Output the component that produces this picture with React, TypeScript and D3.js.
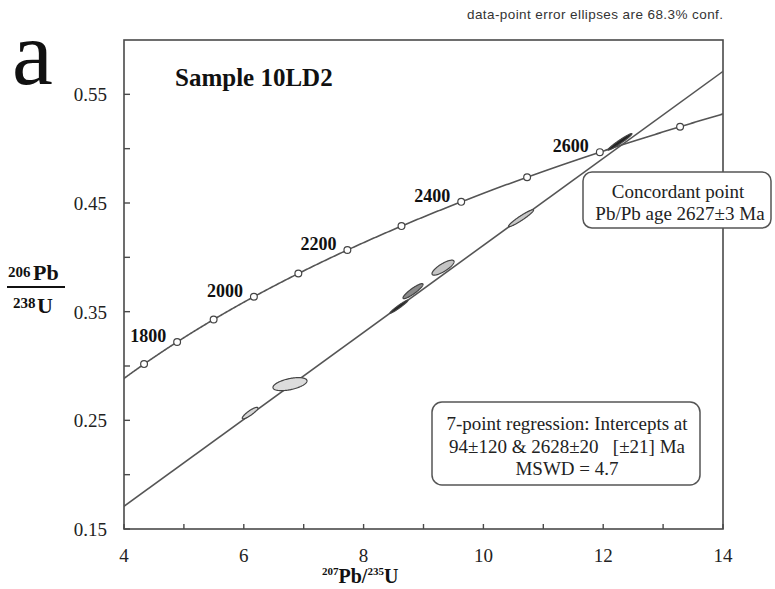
import React from 'react';
import * as d3 from 'd3';

// Decay constants (per year)
const LAMBDA_238 = 1.55125e-10;
const LAMBDA_235 = 9.8485e-10;

// Axis ticks
const xTicks = [4, 5, 6, 7, 8, 9, 10, 11, 12, 13, 14];
const xTickLabels = [4, 6, 8, 10, 12, 14];
const yTicks = [0.15, 0.2, 0.25, 0.3, 0.35, 0.4, 0.45, 0.5, 0.55];
const yTickLabels = [0.15, 0.25, 0.35, 0.45, 0.55];

// Concordia age markers (Ma)
const markerAges = [1700, 1800, 1900, 2000, 2100, 2200, 2300, 2400, 2500, 2600, 2700];
const labelledAges = [1800, 2000, 2200, 2400, 2600];

// Discordia intercepts (Ma)
const lowerInterceptMa = 94;
const upperInterceptMa = 2628;

// Zircon analyses: ratios, 1-sigma errors and error correlation
const pb207U235 = [6.104, 6.771, 8.591, 8.825, 9.326, 10.628, 12.28];
const sigma207 = [0.13, 0.284, 0.15, 0.167, 0.184, 0.209, 0.2];
const pb206U238 = [0.2567, 0.2833, 0.3546, 0.3689, 0.3905, 0.436, 0.5063];
const sigma206 = [0.0053, 0.006, 0.006, 0.0069, 0.0069, 0.0078, 0.0076];
const rho = [0.88, 0.5, 0.97, 0.9, 0.8, 0.95, 0.97];
const ellipseFills = ['#d6d6d6', '#dcdcdc', '#222222', '#8a8a8a', '#c4c4c4', '#c8c8c8', '#222222'];

const W = 775;
const H = 589;
const left = 124;
const right = 723;
const top = 40;
const bottom = 529;

const serif = "'Liberation Serif', 'Times New Roman', serif";
const sans = "'Liberation Sans', Arial, sans-serif";
const ink = '#4a4a4a';

const ratio207 = (ma: number) => Math.exp(LAMBDA_235 * ma * 1e6) - 1;
const ratio206 = (ma: number) => Math.exp(LAMBDA_238 * ma * 1e6) - 1;

export default function App() {
  const x = d3.scaleLinear().domain([4, 14]).range([left, right]);
  const y = d3.scaleLinear().domain([0.15, 0.6]).range([bottom, top]);

  const line = d3
    .line<[number, number]>()
    .x((d) => x(d[0]))
    .y((d) => y(d[1]));

  // Concordia curve sampled over the age span covering the plot
  const concordiaPts: [number, number][] = d3
    .range(1500, 2900, 2)
    .map((t) => [ratio207(t), ratio206(t)]);

  // Discordia chord through both intercepts, extended across the frame
  const x1 = ratio207(lowerInterceptMa);
  const y1 = ratio206(lowerInterceptMa);
  const x2 = ratio207(upperInterceptMa);
  const y2 = ratio206(upperInterceptMa);
  const slope = (y2 - y1) / (x2 - x1);
  const discordiaPts: [number, number][] = [3.5, 14.5].map((v) => [v, y1 + slope * (v - x1)]);

  const ellipsePath = (i: number) => {
    const r = rho[i];
    const pts: [number, number][] = d3.range(0, 2 * Math.PI, Math.PI / 60).map((t) => [
      pb207U235[i] + sigma207[i] * Math.cos(t),
      pb206U238[i] + sigma206[i] * (r * Math.cos(t) + Math.sqrt(1 - r * r) * Math.sin(t)),
    ]);
    return d3
      .line<[number, number]>()
      .x((d) => x(d[0]))
      .y((d) => y(d[1]))
      .curve(d3.curveLinearClosed)(pts) as string;
  };

  return (
    <svg
      width={W}
      height={H}
      viewBox={`0 0 ${W} ${H}`}
      style={{ position: 'absolute', left: 0, top: 0, background: '#fff' }}
    >
      <defs>
        <clipPath id="frame">
          <rect x={left} y={top} width={right - left} height={bottom - top} />
        </clipPath>
      </defs>

      {/* caption */}
      <text
        x={right}
        y={19}
        textAnchor="end"
        fontFamily={sans}
        fontSize={13.5}
        fill="#333"
        textLength={256}
        lengthAdjust="spacing"
      >
        data-point error ellipses are 68.3% conf.
      </text>

      {/* panel letter */}
      <text x={12} y={84} fontFamily={serif} fontSize={92} fill="#111">
        a
      </text>

      {/* frame */}
      <rect
        x={left}
        y={top}
        width={right - left}
        height={bottom - top}
        fill="none"
        stroke={ink}
        strokeWidth={1.6}
      />
      {xTicks.map((t) => (
        <line key={`xt${t}`} x1={x(t)} x2={x(t)} y1={bottom} y2={bottom - 5} stroke={ink} strokeWidth={1.4} />
      ))}
      {yTicks.map((t) => (
        <line key={`yt${t}`} x1={left} x2={left + 6} y1={y(t)} y2={y(t)} stroke={ink} strokeWidth={1.4} />
      ))}

      {/* tick labels */}
      {xTickLabels.map((t) => (
        <text key={`xl${t}`} x={x(t)} y={562} textAnchor="middle" fontFamily={serif} fontSize={19} fill="#222">
          {t}
        </text>
      ))}
      {yTickLabels.map((t) => (
        <text key={`yl${t}`} x={107} y={y(t) + 7} textAnchor="end" fontFamily={serif} fontSize={19} fill="#222">
          {t.toFixed(2)}
        </text>
      ))}

      {/* axis titles */}
      <text x={322} y={583} fontFamily={serif} fontWeight="bold" fill="#111">
        <tspan fontSize={11} dy={-8}>207</tspan>
        <tspan fontSize={20} dy={8}>Pb/</tspan>
        <tspan fontSize={11} dy={-8}>235</tspan>
        <tspan fontSize={20} dy={8}>U</tspan>
      </text>
      <g fontFamily={serif} fontWeight="bold" fill="#111">
        <text x={8} y={277} fontSize={15}>206</text>
        <text x={33} y={280} fontSize={22}>Pb</text>
        <line x1={7} x2={65} y1={287} y2={287} stroke="#111" strokeWidth={2} />
        <text x={13} y={308} fontSize={15}>238</text>
        <text x={37} y={313} fontSize={22}>U</text>
      </g>

      {/* sample name */}
      <text x={175} y={86} fontFamily={serif} fontWeight="bold" fontSize={25} fill="#111">
        Sample 10LD2
      </text>

      {/* concordia and discordia */}
      <g clipPath="url(#frame)" fill="none" stroke="#555" strokeWidth={1.6}>
        <path d={line(concordiaPts) as string} />
        <path d={line(discordiaPts) as string} />
      </g>

      {/* error ellipses */}
      {pb207U235.map((_, i) => (
        <path key={`e${i}`} d={ellipsePath(i)} fill={ellipseFills[i]} stroke="#444" strokeWidth={1.2} />
      ))}

      {/* age markers */}
      {markerAges.map((t) => (
        <circle
          key={`m${t}`}
          cx={x(ratio207(t))}
          cy={y(ratio206(t))}
          r={3.4}
          fill="#fff"
          stroke="#444"
          strokeWidth={1.2}
        />
      ))}
      {labelledAges.map((t) => (
        <text
          key={`al${t}`}
          x={x(ratio207(t)) - 11}
          y={y(ratio206(t))}
          textAnchor="end"
          fontFamily={serif}
          fontWeight="bold"
          fontSize={18}
          fill="#111"
        >
          {t}
        </text>
      ))}

      {/* concordant point box */}
      <rect x={583} y={172} width={188} height={56} rx={9} fill="#fff" stroke="#555" strokeWidth={1.5} />
      <g fontFamily={serif} fontSize={19} fill="#222" textAnchor="middle">
        <text x={678} y={198}>Concordant point</text>
        <text x={680} y={220}>Pb/Pb age 2627±3 Ma</text>
      </g>

      {/* regression box */}
      <rect x={432} y={402} width={268} height={83} rx={10} fill="#fff" stroke="#555" strokeWidth={1.5} />
      <g fontFamily={serif} fontSize={19} fill="#222" textAnchor="middle">
        <text x={567} y={430}>7-point regression: Intercepts at</text>
        <text x={567} y={453} style={{ whiteSpace: 'pre' }}>
          {'94±120 & 2628±20   [±21] Ma'}
        </text>
        <text x={567} y={475}>MSWD = 4.7</text>
      </g>
    </svg>
  );
}
